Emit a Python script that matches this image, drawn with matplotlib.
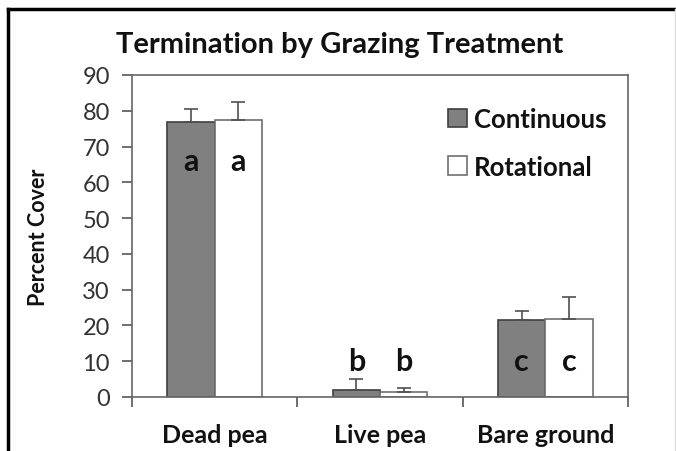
import matplotlib
matplotlib.use("Agg")
import matplotlib.pyplot as plt
import numpy as np
from matplotlib.lines import Line2D

plt.rcParams['font.family'] = ['Lato', 'DejaVu Sans']

categories = ["Dead pea", "Live pea", "Bare ground"]
series_names = ["Continuous", "Rotational"]
continuous = [76.8, 2.0, 21.6]
continuous_err = [3.6, 3.0, 2.5]
rotational = [77.4, 1.3, 21.8]
rotational_err = [5.0, 1.1, 6.1]
letters_cont = ["a", "b", "c"]
letters_rot = ["a", "b", "c"]
letter_y = [63.5, 7.5, 7.5]
yticks = [0, 10, 20, 30, 40, 50, 60, 70, 80, 90]

fig = plt.figure(figsize=(6.76, 4.52), dpi=100)
ax = fig.add_axes([132/676, 1-398/452, 496/676, 322/452])

x = np.arange(len(categories))
w = 0.286
edge = "#404040"
ax.bar(x - w/2, continuous, w, color="#808080", edgecolor=edge, linewidth=1.2,
       label=series_names[0], zorder=2)
ax.bar(x + w/2, rotational, w, color="white", edgecolor="#707070", linewidth=1.2,
       label=series_names[1], zorder=2)
ax.errorbar(x - w/2, continuous, yerr=[np.zeros(3), continuous_err], fmt="none",
            ecolor="#505050", elinewidth=1.2, capsize=5, capthick=1.2, zorder=3)
ax.errorbar(x + w/2, rotational, yerr=[np.zeros(3), rotational_err], fmt="none",
            ecolor="#505050", elinewidth=1.2, capsize=5, capthick=1.2, zorder=3)

for i in range(3):
    ax.text(x[i] - w/2, letter_y[i], letters_cont[i], ha="center", va="baseline",
            fontsize=22, fontweight="bold", color="#111111", zorder=4)
    ax.text(x[i] + w/2, letter_y[i], letters_rot[i], ha="center", va="baseline",
            fontsize=22, fontweight="bold", color="#111111", zorder=4)

ax.set_xlim(-0.5, 2.5)
ax.set_ylim(0, 90)
ax.set_yticks(yticks)
ax.set_yticklabels([str(v) for v in yticks], fontsize=17, color="#333333")
ax.set_xticks(x)
ax.set_xticklabels(categories, fontsize=18, fontweight="bold", color="#111111")
ax.set_xticks([-0.5, 0.5, 1.5, 2.5], minor=True)
ax.tick_params(axis="x", which="major", length=0, pad=19)
ax.tick_params(axis="x", which="minor", length=7, direction="out", color="#555555", width=1.2)
ax.tick_params(axis="y", length=7, direction="out", color="#555555", width=1.2, pad=9)
for s in ax.spines.values():
    s.set_color("#666666")
    s.set_linewidth(1.2)

ax.set_ylabel("Percent Cover", fontsize=15.5, fontweight="bold", color="#111111")
ax.yaxis.set_label_coords((49-132)/496, 0.5)
fig.text(340/676, 1-45/452, "Termination by Grazing Treatment", ha="center", va="center",
         fontsize=21, fontweight="bold", color="#111111")

leg = ax.legend(loc="upper left", bbox_to_anchor=(448/676, 1-108/452),
                bbox_transform=fig.transFigure, frameon=False, fontsize=18.5,
                handlelength=0.75, handleheight=0.75, handletextpad=0.25, labelspacing=0.92,
                borderpad=0, borderaxespad=0)
for t in leg.get_texts():
    t.set_fontweight("bold")
    t.set_color("#111111")

# outer frame
fig.add_artist(Line2D([8/676, 675/676], [1-10/452, 1-10/452], transform=fig.transFigure,
                      color="black", linewidth=2.5))
fig.add_artist(Line2D([8/676, 8/676], [0, 1-10/452], transform=fig.transFigure,
                      color="black", linewidth=2.5))
fig.add_artist(Line2D([675/676, 675/676], [0, 1-10/452], transform=fig.transFigure,
                      color="#dddddd", linewidth=1))

fig.savefig("out.png", dpi=100)
